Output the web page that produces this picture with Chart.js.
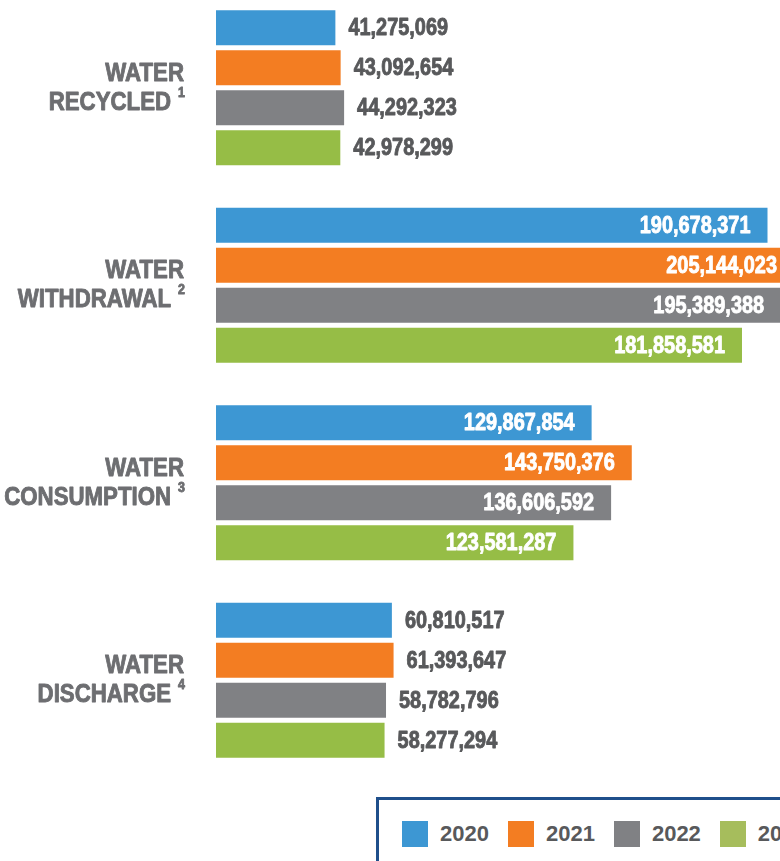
<!DOCTYPE html>
<html>
<head>
<meta charset="utf-8">
<script src="https://cdn.jsdelivr.net/npm/chart.js@4"></script>
<style>
    html, body { margin: 0; padding: 0; width: 780px; height: 861px; overflow: hidden; background: #fff; }
    #wrap { position: absolute; left: 0; top: -11px; width: 780px; height: 790px; }
    #legend {
        position: absolute; left: 376px; top: 797px; width: 500px; height: 100px;
        border: 3px solid #1f4f8b; box-sizing: border-box;
        display: flex; align-items: flex-start; padding: 21px 0 0 23px;
        font-family: "Liberation Sans", Arial, sans-serif; font-weight: bold; font-size: 22px; color: #58595b;
    }
    .item { display: flex; align-items: center; margin-right: 19px; white-space: nowrap; }
    .box { width: 26px; height: 26px; margin-right: 12px; }
</style>
</head>
<body>
<div id="wrap"><canvas id="barChartCanvas" width="780" height="790"></canvas></div>
<div id="legend"></div>
<script>
let categories = ['RECYCLED', 'WITHDRAWAL', 'CONSUMPTION', 'DISCHARGE'];
let footnotes = ['1', '2', '3', '4'];
let years = ['2020', '2021', '2022', '2023'];
let values2020 = [41275069, 190678371, 129867854, 60810517];
let values2021 = [43092654, 205144023, 143750376, 61393647];
let values2022 = [44292323, 195389388, 136606592, 58782796];
let values2023 = [42978299, 181858581, 123581287, 58277294];
let colors = ['#3d97d3', '#f37d22', '#808184', '#96bd46'];
let legendColors = ['#3d97d3', '#f37d22', '#808184', '#a6bd5c'];

let fontFamily = '"Liberation Sans", Arial, sans-serif';

// draws text squeezed horizontally (and a bit heavier) to fake the condensed face
function condensedText(ctx, text, x, y, align, sx) {
    ctx.save();
    ctx.translate(x, y);
    ctx.scale(sx, 1);
    ctx.textAlign = align;
    ctx.strokeStyle = ctx.fillStyle;
    ctx.lineWidth = 0.9;
    ctx.lineJoin = 'round';
    ctx.fillText(text, 0, 0);
    ctx.strokeText(text, 0, 0);
    ctx.restore();
}

let valueLabels = {
    id: 'valueLabels',
    afterDatasetsDraw: function (chart) {
        let ctx = chart.ctx;
        let area = chart.chartArea;
        let sx = 0.83;
        ctx.save();
        ctx.font = 'bold 24px ' + fontFamily;
        ctx.textBaseline = 'middle';
        chart.data.datasets.forEach(function (ds, i) {
            chart.getDatasetMeta(i).data.forEach(function (bar, j) {
                let text = ds.data[j].toLocaleString('en-US');
                let w = ctx.measureText(text).width * sx;
                if (bar.x - bar.base > w * 2 + 40) {
                    ctx.fillStyle = '#ffffff';
                    condensedText(ctx, text, Math.min(bar.x - 17, area.right - 3), bar.y + 1, 'right', sx);
                } else {
                    ctx.fillStyle = '#58595b';
                    condensedText(ctx, text, bar.x + 13, bar.y + 1, 'left', sx);
                }
            });
        });
        ctx.restore();
    }
};

let categoryLabels = {
    id: 'categoryLabels',
    afterDraw: function (chart) {
        let ctx = chart.ctx;
        let yScale = chart.scales.y;
        let sx = 0.89;
        let right = 184;
        ctx.save();
        ctx.fillStyle = '#6d6e71';
        ctx.textBaseline = 'middle';
        categories.forEach(function (c, i) {
            let y = yScale.getPixelForValue(i);
            ctx.font = 'bold 25px ' + fontFamily;
            condensedText(ctx, 'WATER', right, y - 14, 'right', sx);
            ctx.font = 'bold 14px ' + fontFamily;
            let fw = ctx.measureText(footnotes[i]).width * sx;
            condensedText(ctx, footnotes[i], right + 1, y + 5, 'right', sx);
            ctx.font = 'bold 25px ' + fontFamily;
            condensedText(ctx, c, right - fw - 6, y + 15, 'right', sx);
        });
        ctx.restore();
    }
};

let allValues = [values2020, values2021, values2022, values2023];

let barChartData = {
    labels: categories,
    datasets: years.map(function (y, i) {
        return {
            label: y,
            data: allValues[i],
            backgroundColor: colors[i],
            categoryPercentage: 0.81,
            barPercentage: 0.875
        };
    })
};

let barChartDraw = function () {
    let ctx = document.getElementById('barChartCanvas').getContext('2d');

    window.barChart = new Chart(ctx, {
        type: 'bar',
        data: barChartData,
        plugins: [valueLabels, categoryLabels],
        options: {
            indexAxis: 'y',
            responsive: false,
            animation: false,
            layout: { padding: { left: 216, right: 0, top: 0, bottom: 0 } },
            plugins: {
                legend: { display: false },
                tooltip: { enabled: false }
            },
            scales: {
                x: {
                    display: false,
                    min: 0,
                    max: 195000000
                },
                y: {
                    display: false
                }
            }
        }
    });
};

let legend = document.getElementById('legend');
years.forEach(function (y, i) {
    let item = document.createElement('div');
    item.className = 'item';
    item.innerHTML = '<div class="box" style="background:' + legendColors[i] + '"></div>' + y;
    legend.appendChild(item);
});

window.onload = function () {
    barChartDraw();
};
</script>
</body>
</html>
